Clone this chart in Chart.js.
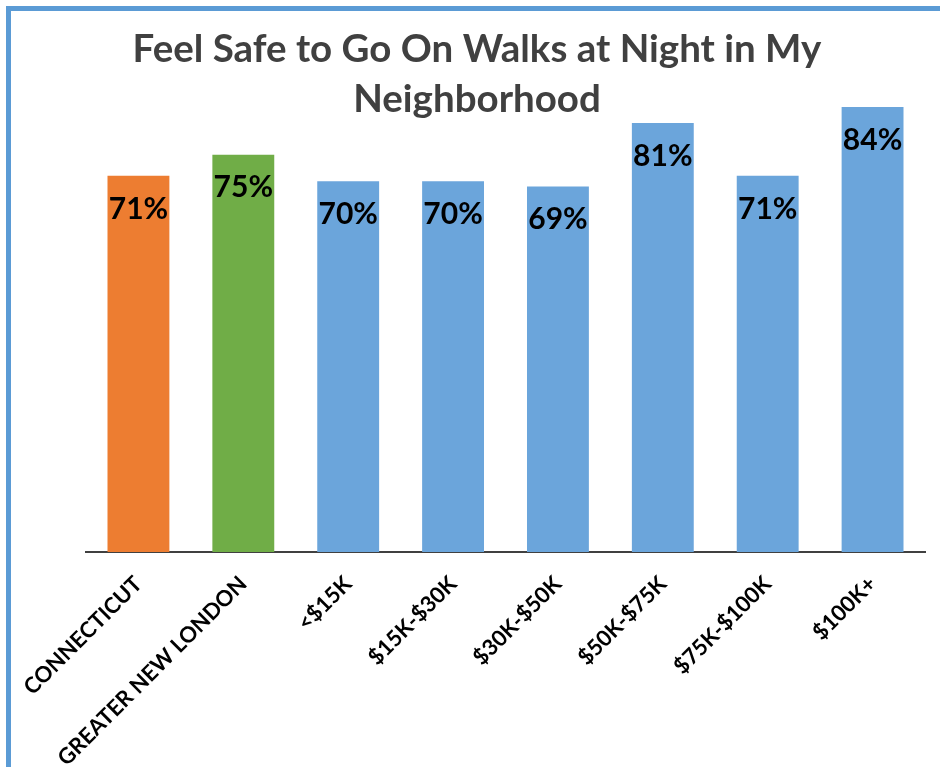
<!DOCTYPE html>
<html><head><meta charset="utf-8">
<script src="https://cdn.jsdelivr.net/npm/chart.js@4"></script>
<style>
html,body{margin:0;padding:0;width:940px;height:767px;overflow:hidden;background:#fff;}
#frame{position:absolute;left:6px;top:6px;width:1100px;height:1100px;border:5px solid #5b9bd5;box-sizing:border-box;}
#wrap{position:absolute;left:0;top:0;width:940px;height:767px;}
</style></head><body>
<div id="frame"></div>
<div id="wrap"><canvas id="c" width="940" height="767"></canvas></div>
<script>
const categories = ['CONNECTICUT','GREATER NEW LONDON','<$15K','$15K-$30K','$30K-$50K','$50K-$75K','$75K-$100K','$100K+'];
const values = [71, 75, 70, 70, 69, 81, 71, 84];
const titleLines = ['Feel Safe to Go On Walks at Night in My', 'Neighborhood'];
const barColors = ['#ED7D31', '#70AD47', '#6BA5DB', '#6BA5DB', '#6BA5DB', '#6BA5DB', '#6BA5DB', '#6BA5DB'];

const valueLabels = {
  id: 'valueLabels',
  afterDatasetsDraw(chart) {
    const ctx = chart.ctx;
    const meta = chart.getDatasetMeta(0);
    ctx.save();
    ctx.font = 'bold 30px Lato, "Liberation Sans", sans-serif';
    ctx.fillStyle = '#000';
    ctx.textAlign = 'center';
    ctx.textBaseline = 'middle';
    meta.data.forEach((bar, i) => {
      ctx.fillText(values[i] + '%', bar.x, bar.y + 33);
    });
    ctx.restore();
  }
};

new Chart(document.getElementById('c'), {
  type: 'bar',
  data: {
    labels: categories,
    datasets: [{ data: values, backgroundColor: barColors, borderWidth: 0, categoryPercentage: 1, barPercentage: 0.59 }]
  },
  options: {
    responsive: false,
    animation: false,
    layout: { padding: { left: 29, right: 15, top: 0, bottom: 0 } },
    plugins: {
      legend: { display: false },
      tooltip: { enabled: false },
      title: {
        display: true,
        text: titleLines,
        color: '#404040',
        font: { family: 'Lato, "Liberation Sans", sans-serif', size: 38.5, weight: 'bold', lineHeight: '50px' },
        padding: { top: 25, bottom: -18 }
      }
    },
    scales: {
      x: {
        grid: { display: false },
        border: { display: true, color: '#404040', width: 2 },
        ticks: {
          autoSkip: false, minRotation: 45, maxRotation: 45, padding: 11,
          color: '#000',
          font: { family: 'Lato, "Liberation Sans", sans-serif', size: 22, weight: 'bold' }
        },
        afterFit(scale) { scale.height = 215; }
      },
      y: {
        min: 0, max: 84,
        grid: { display: false },
        border: { display: false },
        ticks: { display: false },
        afterFit(scale) { scale.width = 57; }
      }
    }
  },
  plugins: [valueLabels]
});
</script>
</body></html>
